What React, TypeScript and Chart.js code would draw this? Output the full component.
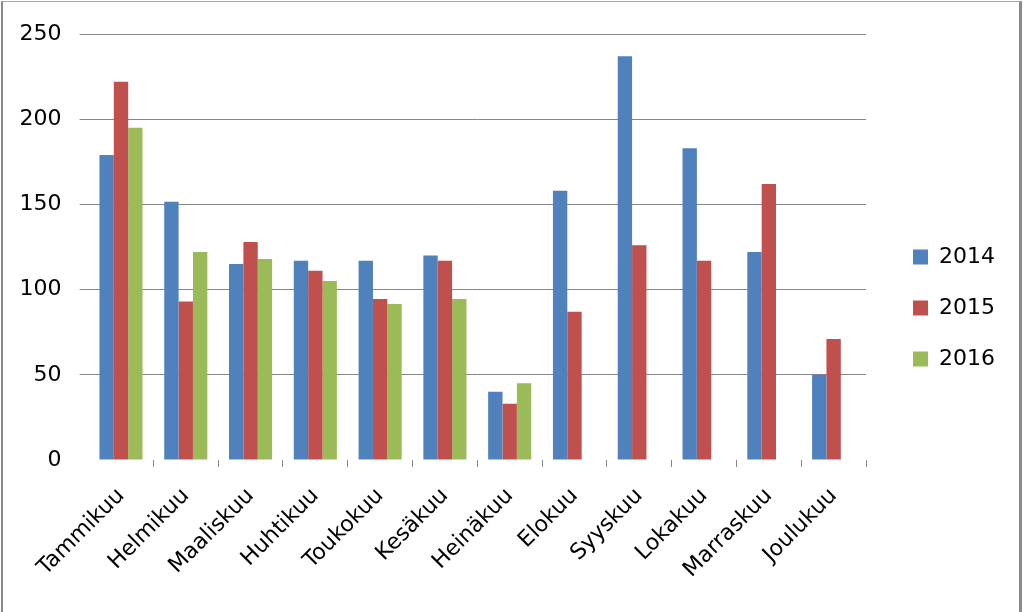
import React, { useEffect, useRef } from "react";
import { Chart, registerables } from "chart.js";

Chart.register(...registerables);

const months = [
  "Tammikuu", "Helmikuu", "Maaliskuu", "Huhtikuu", "Toukokuu", "Kesäkuu",
  "Heinäkuu", "Elokuu", "Syyskuu", "Lokakuu", "Marraskuu", "Joulukuu",
];
const values2014 = [179, 151.5, 115, 117, 117, 120, 40, 158, 237, 183, 122, 50];
const values2015 = [222, 93, 128, 111, 94.5, 117, 33, 87, 126, 117, 162, 71];
const values2016 = [195, 122, 118, 105, 91.5, 94.5, 45, null, null, null, null, null];
const yTicks = [0, 50, 100, 150, 200, 250];

const FONT = "'DejaVu Sans', sans-serif";
const GRID = "#868686";

export default function App() {
  const ref = useRef<HTMLCanvasElement | null>(null);

  useEffect(() => {
    if (!ref.current) return;
    const chart = new Chart(ref.current, {
      type: "bar",
      data: {
        labels: months,
        datasets: [
          { label: "2014", data: values2014, backgroundColor: "#4F81BD", borderWidth: 0 },
          { label: "2015", data: values2015, backgroundColor: "#C0504D", borderWidth: 0 },
          { label: "2016", data: values2016 as any, backgroundColor: "#9BBB59", borderWidth: 0 },
        ],
      },
      options: {
        responsive: false,
        animation: false,
        devicePixelRatio: 1,
        datasets: { bar: { categoryPercentage: 0.665, barPercentage: 1 } },
        layout: { padding: { left: 0, top: 34, right: 19, bottom: 30 } },
        scales: {
          x: {
            grid: {
              offset: true,
              drawOnChartArea: false,
              drawTicks: true,
              tickLength: 7,
              color: (ctx: any) => (ctx.index === 0 ? "rgba(0,0,0,0)" : GRID),
            },
            border: { display: false },
            ticks: {
              color: "#000",
              font: { family: FONT, size: 22 },
              minRotation: 45,
              maxRotation: 45,
              padding: 16,
              autoSkip: false,
            },
            afterFit: (s: any) => {
              s.height = 122;
            },
          },
          y: {
            min: 0,
            max: 250,
            afterBuildTicks: (s: any) => {
              s.ticks = yTicks.map((v) => ({ value: v }));
            },
            grid: {
              drawTicks: true,
              tickLength: 9,
              color: (ctx: any) => (ctx.tick && ctx.tick.value === 0 ? "rgba(0,0,0,0)" : GRID),
            },
            border: { display: false },
            ticks: {
              color: "#000",
              font: { family: FONT, size: 22 },
              padding: 18,
            },
            afterFit: (s: any) => {
              s.width = 88.6;
            },
          },
          spacer: {
            type: "linear",
            position: "right",
            display: true,
            grid: { display: false, drawTicks: false },
            border: { display: false },
            ticks: { display: false },
            afterFit: (s: any) => {
              s.width = 18;
            },
          },
        },
        plugins: {
          legend: {
            position: "right",
            labels: {
              color: "#000",
              font: { family: FONT, size: 22 },
              boxWidth: 15,
              boxHeight: 15,
              padding: 29,
            },
          },
          tooltip: { enabled: false },
        },
      } as any,
    });
    return () => chart.destroy();
  }, []);

  return (
    <div
      style={{
        position: "fixed",
        left: 0,
        top: 0,
        width: 1024,
        height: 612,
        background: "#fff",
        overflow: "hidden",
      }}
    >
      <canvas ref={ref} width={1024} height={612} style={{ position: "absolute", left: 0, top: 0, width: 1024, height: 612 }} />
      <div
        style={{
          position: "absolute",
          left: 1,
          top: 1,
          width: 1021,
          height: 700,
          boxSizing: "border-box",
          borderLeft: "2px solid #8a8a8a",
          borderTop: "1px solid #a8a8a8",
          borderRight: "3px solid #8a8a8a",
          pointerEvents: "none",
        }}
      />
    </div>
  );
}
